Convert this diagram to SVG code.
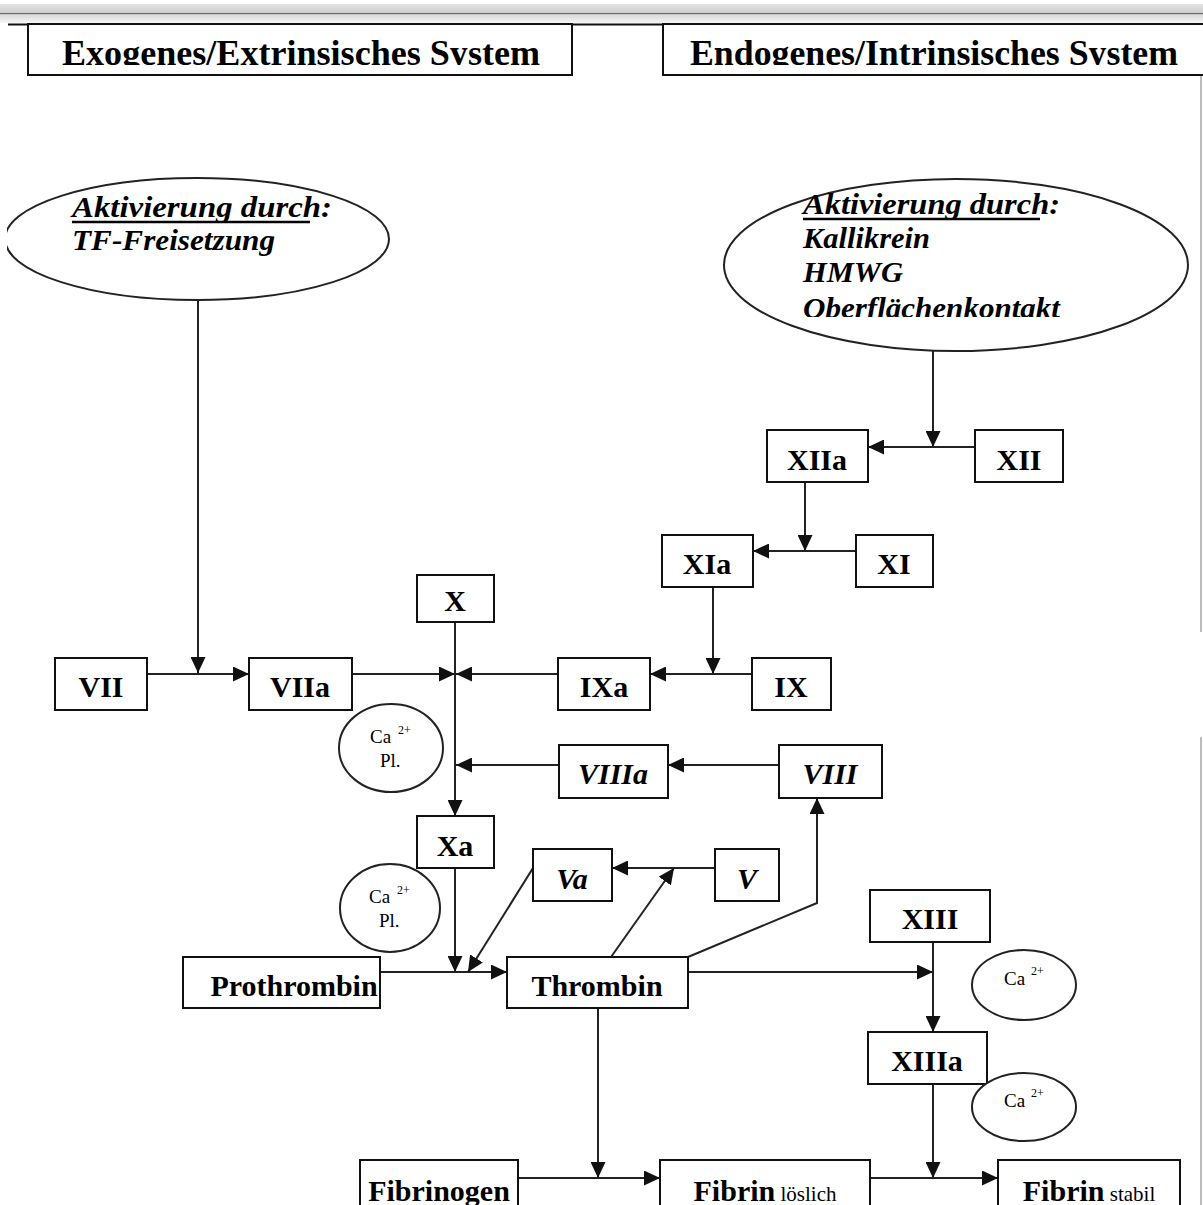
<svg xmlns="http://www.w3.org/2000/svg" width="1203" height="1205" viewBox="0 0 1203 1205">
  <style>
    .box { fill: #fff; stroke: #111; stroke-width: 2; }
    .oval { fill: #fff; stroke: #222; stroke-width: 2; }
    .lbl { font-family: "Liberation Serif", "Times New Roman", serif; font-weight: bold; font-size: 30px; fill: #000; text-anchor: middle; }
    .it { font-style: italic; }
    .title { font-family: "Liberation Serif", "Times New Roman", serif; font-weight: bold; font-size: 36px; fill: #000; }
    .act { font-family: "Liberation Serif", "Times New Roman", serif; font-weight: bold; font-style: italic; font-size: 29px; fill: #000; }
    .ca { font-family: "Liberation Serif", "Times New Roman", serif; font-size: 19px; fill: #000; }
    .sup { font-family: "Liberation Serif", "Times New Roman", serif; font-size: 12px; fill: #000; }
    .small { font-weight: normal; font-size: 21px; }
    .conn { fill: none; stroke: #222; stroke-width: 2; }
  </style>
  <defs>
    <marker id="arrow" markerUnits="userSpaceOnUse" markerWidth="17" markerHeight="15" refX="16" refY="7.5" orient="auto">
      <path d="M0,0 L16,7.5 L0,15 Z" fill="#111"/>
    </marker>
    <linearGradient id="barShade" x1="0" y1="0" x2="0" y2="1">
      <stop offset="0" stop-color="#e2e2e2"/>
      <stop offset="0.45" stop-color="#cfcfcf"/>
      <stop offset="0.5" stop-color="#666"/>
      <stop offset="0.56" stop-color="#d8d8d8"/>
      <stop offset="1" stop-color="#f6f6f6"/>
    </linearGradient>
    <clipPath id="titleClip"><rect x="0" y="25" width="1203" height="40"/></clipPath>
    <clipPath id="leftClip"><rect x="7" y="0" width="1196" height="1205"/></clipPath>
    <clipPath id="ovalTextClip"><rect x="700" y="170" width="500" height="147"/></clipPath>
  </defs>

  <rect width="1203" height="1205" fill="#fff"/>

  <!-- page header rule -->
  <rect x="0" y="4" width="1203" height="19" fill="url(#barShade)"/>
  <line x1="8" y1="24.5" x2="1203" y2="24.5" stroke="#111" stroke-width="2"/>
  <!-- right page edge -->
  <line x1="1201" y1="75" x2="1201" y2="632" stroke="#bbb" stroke-width="2"/>
  <line x1="1201" y1="737" x2="1201" y2="1205" stroke="#bbb" stroke-width="2"/>

  <!-- section headings -->
  <g id="title-extrinsic">
    <rect class="box" x="28" y="24" width="544" height="51"/>
    <text class="title" x="62" y="65" textLength="478" lengthAdjust="spacingAndGlyphs" clip-path="url(#titleClip)">Exogenes/Extrinsisches System</text>
  </g>
  <g id="title-intrinsic">
    <rect class="box" x="663" y="24" width="560" height="51"/>
    <text class="title" x="690" y="65" textLength="488" lengthAdjust="spacingAndGlyphs" clip-path="url(#titleClip)">Endogenes/Intrinsisches System</text>
  </g>

  <!-- activation triggers -->
  <g id="trigger-extrinsic" clip-path="url(#leftClip)">
    <ellipse class="oval" cx="197" cy="239" rx="192" ry="61"/>
    <text class="act" x="72" y="217" textLength="260" lengthAdjust="spacingAndGlyphs">Aktivierung durch:</text>
    <line x1="72" y1="222" x2="310" y2="222" stroke="#000" stroke-width="2.5"/>
    <text class="act" x="72" y="250" textLength="203" lengthAdjust="spacingAndGlyphs">TF-Freisetzung</text>
  </g>
  <g id="trigger-intrinsic">
    <ellipse class="oval" cx="956" cy="265" rx="232" ry="86"/>
    <g clip-path="url(#ovalTextClip)">
      <text class="act" x="803" y="214" textLength="257" lengthAdjust="spacingAndGlyphs">Aktivierung durch:</text>
      <line x1="803" y1="219" x2="1040" y2="219" stroke="#000" stroke-width="2.5"/>
      <text class="act" x="803" y="248" textLength="127" lengthAdjust="spacingAndGlyphs">Kallikrein</text>
      <text class="act" x="803" y="282" textLength="100" lengthAdjust="spacingAndGlyphs">HMWG</text>
      <text class="act" x="803" y="318" textLength="257" lengthAdjust="spacingAndGlyphs">Oberflächenkontakt</text>
    </g>
  </g>

  <!-- connectors -->
  <g id="connectors" class="conn">
    <path class="conn" d="M198,300 V673" marker-end="url(#arrow)"/>
    <path class="conn" d="M147,674 H249" marker-end="url(#arrow)"/>
    <path class="conn" d="M352,674 H455" marker-end="url(#arrow)"/>
    <path class="conn" d="M558,674 H456" marker-end="url(#arrow)"/>
    <path class="conn" d="M455,622 V816" marker-end="url(#arrow)"/>
    <path class="conn" d="M559,765 H456" marker-end="url(#arrow)"/>
    <path class="conn" d="M779,765 H668" marker-end="url(#arrow)"/>
    <path class="conn" d="M933,351 V447" marker-end="url(#arrow)"/>
    <path class="conn" d="M975,447 H868" marker-end="url(#arrow)"/>
    <path class="conn" d="M805,482 V551" marker-end="url(#arrow)"/>
    <path class="conn" d="M856,551 H753" marker-end="url(#arrow)"/>
    <path class="conn" d="M713,587 V674" marker-end="url(#arrow)"/>
    <path class="conn" d="M752,674 H650" marker-end="url(#arrow)"/>
    <path class="conn" d="M455,868 V972" marker-end="url(#arrow)"/>
    <path class="conn" d="M380,972 H507" marker-end="url(#arrow)"/>
    <path class="conn" d="M533,868 L468,972" marker-end="url(#arrow)"/>
    <path class="conn" d="M715,868 H612" marker-end="url(#arrow)"/>
    <path class="conn" d="M611,957 L674,868" marker-end="url(#arrow)"/>
    <path class="conn" d="M688,957 L817,903 V798" marker-end="url(#arrow)"/>
    <path class="conn" d="M688,972 H933" marker-end="url(#arrow)"/>
    <path class="conn" d="M933,942 V1032" marker-end="url(#arrow)"/>
    <path class="conn" d="M598,1008 V1178" marker-end="url(#arrow)"/>
    <path class="conn" d="M518,1178 H660" marker-end="url(#arrow)"/>
    <path class="conn" d="M933,1084 V1178" marker-end="url(#arrow)"/>
    <path class="conn" d="M870,1178 H998" marker-end="url(#arrow)"/>
  </g>

  <!-- factor nodes -->
  <g id="node-XII"><rect class="box" x="975" y="430" width="88" height="52"/><text class="lbl" x="1019" y="470">XII</text></g>
  <g id="node-XIIa"><rect class="box" x="767" y="430" width="101" height="52"/><text class="lbl" x="817" y="470">XIIa</text></g>
  <g id="node-XI"><rect class="box" x="856" y="535" width="77" height="52"/><text class="lbl" x="894" y="574">XI</text></g>
  <g id="node-XIa"><rect class="box" x="662" y="535" width="91" height="52"/><text class="lbl" x="707" y="574">XIa</text></g>
  <g id="node-X"><rect class="box" x="417" y="575" width="77" height="47"/><text class="lbl" x="455" y="611">X</text></g>
  <g id="node-VII"><rect class="box" x="55" y="658" width="92" height="52"/><text class="lbl" x="101" y="697">VII</text></g>
  <g id="node-VIIa"><rect class="box" x="249" y="658" width="103" height="52"/><text class="lbl" x="300" y="697">VIIa</text></g>
  <g id="node-IXa"><rect class="box" x="558" y="658" width="92" height="52"/><text class="lbl" x="604" y="697">IXa</text></g>
  <g id="node-IX"><rect class="box" x="752" y="658" width="79" height="52"/><text class="lbl" x="791" y="697">IX</text></g>
  <g id="node-Ca1">
    <ellipse class="oval" cx="391" cy="748" rx="52" ry="44"/>
    <text class="ca" x="370" y="743">Ca</text><text class="sup" x="398" y="734">2+</text>
    <text class="ca" x="380" y="767">Pl.</text>
  </g>
  <g id="node-VIIIa"><rect class="box" x="559" y="745" width="109" height="53"/><text class="lbl it" x="613" y="784">VIIIa</text></g>
  <g id="node-VIII"><rect class="box" x="779" y="745" width="103" height="53"/><text class="lbl it" x="830" y="784">VIII</text></g>
  <g id="node-Xa"><rect class="box" x="417" y="816" width="77" height="52"/><text class="lbl" x="455" y="856">Xa</text></g>
  <g id="node-Ca2">
    <ellipse class="oval" cx="390" cy="908" rx="50" ry="44"/>
    <text class="ca" x="369" y="903">Ca</text><text class="sup" x="397" y="894">2+</text>
    <text class="ca" x="379" y="927">Pl.</text>
  </g>
  <g id="node-Va"><rect class="box" x="533" y="849" width="79" height="52"/><text class="lbl it" x="572" y="889">Va</text></g>
  <g id="node-V"><rect class="box" x="715" y="849" width="64" height="52"/><text class="lbl it" x="747" y="889">V</text></g>
  <g id="node-XIII"><rect class="box" x="870" y="890" width="120" height="52"/><text class="lbl" x="930" y="929">XIII</text></g>
  <g id="node-Ca3">
    <ellipse class="oval" cx="1024" cy="985" rx="52" ry="35"/>
    <text class="ca" x="1004" y="985">Ca</text><text class="sup" x="1031" y="975">2+</text>
  </g>
  <g id="node-Prothrombin"><rect class="box" x="183" y="957" width="197" height="51"/><text class="lbl" x="294" y="996">Prothrombin</text></g>
  <g id="node-Thrombin"><rect class="box" x="507" y="957" width="181" height="51"/><text class="lbl" x="597" y="996">Thrombin</text></g>
  <g id="node-XIIIa"><rect class="box" x="868" y="1032" width="119" height="52"/><text class="lbl" x="927" y="1071">XIIIa</text></g>
  <g id="node-Ca4">
    <ellipse class="oval" cx="1024" cy="1107" rx="52" ry="34"/>
    <text class="ca" x="1004" y="1107">Ca</text><text class="sup" x="1031" y="1097">2+</text>
  </g>
  <g id="node-Fibrinogen"><rect class="box" x="360" y="1160" width="158" height="60"/><text class="lbl" x="439" y="1201">Fibrinogen</text></g>
  <g id="node-FibrinLoslich"><rect class="box" x="660" y="1160" width="210" height="60"/><text class="lbl" x="765" y="1201">Fibrin<tspan class="small"> löslich</tspan></text></g>
  <g id="node-FibrinStabil"><rect class="box" x="998" y="1160" width="182" height="60"/><text class="lbl" x="1089" y="1201">Fibrin<tspan class="small"> stabil</tspan></text></g>
</svg>
